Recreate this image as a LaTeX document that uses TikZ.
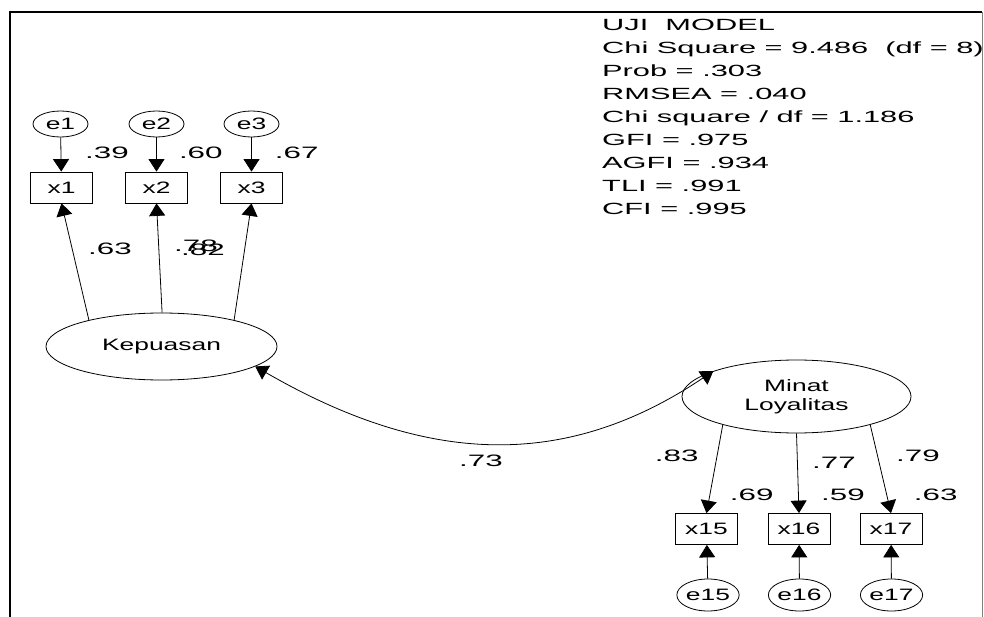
\documentclass[tikz,border=0pt]{standalone}
\usepackage{fontspec}
\setmainfont{Liberation Sans}
\newfontfamily\fA[FakeStretch=1.9]{Liberation Sans}
\newfontfamily\fB[FakeStretch=1.6]{Liberation Sans}
\usetikzlibrary{arrows.meta,shapes.geometric}
\begin{document}
\begin{tikzpicture}[x=1pt,y=-1pt,
  >={Triangle[length=12.5pt,width=16pt]},
  lat/.style={ellipse, draw, line width=0.8pt, inner sep=0pt, align=center,
    font=\fB\fontsize{16.5}{19.5}\selectfont},
  obs/.style={rectangle, draw, line width=0.8pt, minimum width=62pt, minimum height=31pt,
    inner sep=0pt, font=\fB\fontsize{16.5}{19.5}\selectfont},
  err/.style={ellipse, draw, line width=0.8pt, inner sep=0pt,
    font=\fB\fontsize{16.5}{19.5}\selectfont},
  coef/.style={inner sep=0pt, font=\fA\fontsize{16.5}{19.5}\selectfont},
  conn/.style={->, line width=0.8pt},
  frameline/.style={line width=2.2pt}]
\useasboundingbox (0,0) rectangle (984,617);
% frame
\draw[frameline] (10,617) -- (10,12) -- (982,12);
\draw[gray, line width=0.8pt] (982,12) -- (982,617);

% statistics
\node[anchor=base west, inner sep=0pt, font=\fA\fontsize{16.2}{23}\selectfont] (stats) at (602,30.7)
 {\begin{tabular}[t]{@{}l@{}}
 UJI\ \ MODEL\\
 Chi Square = 9.486\ \ (df = 8)\\
 Prob = .303\\
 RMSEA = .040\\
 Chi square / df = 1.186\\
 GFI = .975\\
 AGFI = .934\\
 TLI = .991\\
 CFI = .995
 \end{tabular}};

% Kepuasan block
\node[err, minimum width=55pt, minimum height=26pt] (e1) at (60.5,124) {e1};
\node[err, minimum width=55pt, minimum height=26pt] (e2) at (156.5,124) {e2};
\node[err, minimum width=55pt, minimum height=26pt] (e3) at (251.5,124) {e3};
\node[obs] (x1) at (61.5,187.5) {x1};
\node[obs] (x2) at (156.5,187.5) {x2};
\node[obs] (x3) at (251.5,187.5) {x3};
\node[lat, minimum width=231pt, minimum height=67pt] (kep) at (161.5,346.5) {Kepuasan};

\draw[conn] (e1) -- (x1);
\draw[conn] (e2) -- (x2);
\draw[conn] (e3) -- (x3);
\draw[conn] (kep.160.7) -- (x1.south);
\draw[conn] (kep.89) -- (x2.south);
\draw[conn] (kep.20.7) -- (x3.south);

\node[coef] (r1) at (107,152.5) {.39};
\node[coef] (r2) at (200.8,152.5) {.60};
\node[coef] (r3) at (296.7,152.5) {.67};
\node[coef] (l1) at (110,249) {.63};
\node[coef] (l2) at (196,246) {.78};
\node[coef] (l3) at (203,250) {.82};

% Minat Loyalitas block
\node[lat, minimum width=229pt, minimum height=73pt] (min) at (796.5,396.5) {Minat\\Loyalitas};
\node[obs] (x15) at (706.5,529) {x15};
\node[obs] (x16) at (799,529) {x16};
\node[obs] (x17) at (891,529) {x17};
\node[err, minimum width=57pt, minimum height=32pt] (e15) at (708,595) {e15};
\node[err, minimum width=57pt, minimum height=32pt] (e16) at (799.5,595) {e16};
\node[err, minimum width=57pt, minimum height=32pt] (e17) at (891.5,595) {e17};

\draw[conn] (min.201.9) -- (x15.north);
\draw[conn] (min.-90) -- (x16.north);
\draw[conn] (min.-21.9) -- (x17.north);
\draw[conn] (e15) -- (x15);
\draw[conn] (e16) -- (x16);
\draw[conn] (e17) -- (x17);

\node[coef] (m1) at (676.7,456) {.83};
\node[coef] (m2) at (834,462.5) {.77};
\node[coef] (m3) at (918,456) {.79};
\node[coef] (s1) at (751.7,495) {.69};
\node[coef] (s2) at (843,495) {.59};
\node[coef] (s3) at (935.7,495) {.63};

% correlation
\draw[<->, line width=0.8pt] (kep.-12.2) .. controls (431,468) and (569,468) .. (min.163);
\node[coef] (cor) at (481,461) {.73};
\end{tikzpicture}
\end{document}
